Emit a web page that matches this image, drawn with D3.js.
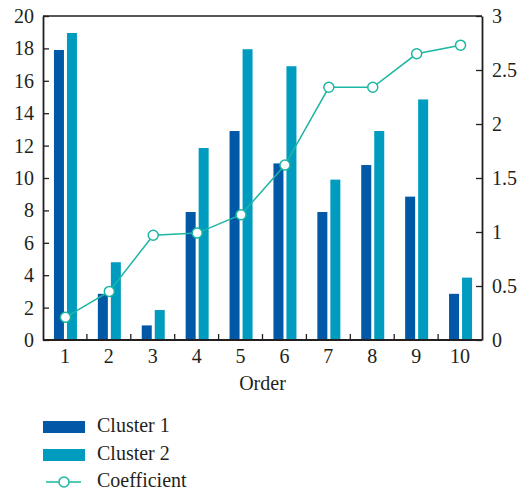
<!DOCTYPE html>
<html>
<head>
<meta charset="utf-8">
<script src="https://cdn.jsdelivr.net/npm/d3@7"></script>
<style>
  html, body { margin: 0; padding: 0; background: #fff; }
  svg text { font-family: "Liberation Serif", "DejaVu Serif", serif; fill: #231f20; }
</style>
</head>
<body>
<svg id="chart" width="519" height="492"></svg>
<script>
// Categories and series
const orders = [1, 2, 3, 4, 5, 6, 7, 8, 9, 10];
const cluster1 = [17.9, 2.85, 0.9, 7.9, 12.9, 10.9, 7.9, 10.8, 8.85, 2.85];
const cluster2 = [18.95, 4.8, 1.85, 11.85, 17.95, 16.9, 9.9, 12.9, 14.85, 3.85];
const coefficient = [0.21, 0.45, 0.97, 0.99, 1.16, 1.62, 2.34, 2.34, 2.65, 2.73];
const leftTicks = [0, 2, 4, 6, 8, 10, 12, 14, 16, 18, 20];
const rightTicks = [0, 0.5, 1, 1.5, 2, 2.5, 3];
const seriesNames = ["Cluster 1", "Cluster 2", "Coefficient"];

const colors = { c1: "#0058a7", c2: "#009cc0", coef: "#1cb6a2", axis: "#231f20" };
const fontSize = "20px";

const svg = d3.select("#chart");
const plot = { left: 43, right: 482, top: 16, bottom: 340 };

const x = d3.scaleBand().domain(orders).range([plot.left, plot.right]);
const y = d3.scaleLinear().domain([0, 20]).range([plot.bottom, plot.top]);
const y2 = d3.scaleLinear().domain([0, 3]).range([plot.bottom, plot.top]);

const barW = 10, barGap = 3;

// Bars
const g = svg.append("g");
g.selectAll("rect.c1").data(orders).join("rect")
  .attr("class", "c1")
  .attr("x", d => x(d) + x.bandwidth() / 2 - barW - barGap / 2 + 0.5)
  .attr("y", (d, i) => y(cluster1[i]))
  .attr("width", barW)
  .attr("height", (d, i) => y(0) - y(cluster1[i]))
  .attr("fill", colors.c1);
g.selectAll("rect.c2").data(orders).join("rect")
  .attr("class", "c2")
  .attr("x", d => x(d) + x.bandwidth() / 2 + barGap / 2 + 0.5)
  .attr("y", (d, i) => y(cluster2[i]))
  .attr("width", barW)
  .attr("height", (d, i) => y(0) - y(cluster2[i]))
  .attr("fill", colors.c2);

// Coefficient line
const cx = d => x(d) + x.bandwidth() / 2 + 0.5;
const line = d3.line().x((d, i) => cx(orders[i])).y(d => y2(d));
g.append("path").datum(coefficient)
  .attr("d", line).attr("fill", "none")
  .attr("stroke", colors.coef).attr("stroke-width", 1.5);
g.selectAll("circle.pt").data(coefficient).join("circle")
  .attr("class", "pt")
  .attr("cx", (d, i) => cx(orders[i]))
  .attr("cy", d => y2(d))
  .attr("r", 5)
  .attr("fill", "#fff")
  .attr("stroke", colors.coef).attr("stroke-width", 1.5);

// Frame: top border line
svg.append("line")
  .attr("x1", plot.left).attr("x2", plot.right)
  .attr("y1", plot.top).attr("y2", plot.top)
  .attr("stroke", colors.axis).attr("stroke-width", 1.5);

function styleAxis(sel) {
  sel.select(".domain").attr("stroke", colors.axis).attr("stroke-width", 1.8);
  sel.selectAll(".tick line").attr("stroke", colors.axis).attr("stroke-width", 1.3);
  sel.selectAll(".tick text").style("font-size", fontSize).attr("fill", colors.axis);
}

// Left axis (ticks point inward)
const leftAxis = svg.append("g").attr("transform", `translate(${plot.left},0)`)
  .call(d3.axisLeft(y).tickValues(leftTicks).tickSize(-6).tickSizeOuter(0));
styleAxis(leftAxis);
leftAxis.selectAll(".tick text").attr("x", -9);

// Right axis
const rightAxis = svg.append("g").attr("transform", `translate(${plot.right},0)`)
  .call(d3.axisRight(y2).tickValues(rightTicks).tickFormat(d3.format("")).tickSize(-6).tickSizeOuter(0));
styleAxis(rightAxis);
rightAxis.selectAll(".tick text").attr("x", 10);

// Bottom axis: labels at band centres, ticks at band boundaries
const bottomAxis = svg.append("g").attr("transform", `translate(0,${plot.bottom})`)
  .call(d3.axisBottom(x).tickSize(0).tickSizeOuter(0));
styleAxis(bottomAxis);
bottomAxis.select(".domain").attr("d", `M${plot.left},0H${plot.right}`);
bottomAxis.selectAll(".tick text").attr("dy", "0.71em").attr("y", 9);
bottomAxis.selectAll("line.sep").data(orders.slice(1)).join("line")
  .attr("class", "sep")
  .attr("x1", d => x(d)).attr("x2", d => x(d))
  .attr("y1", 0).attr("y2", -6)
  .attr("stroke", colors.axis).attr("stroke-width", 1.3);

// Axis title
svg.append("text")
  .attr("x", (plot.left + plot.right) / 2).attr("y", 390)
  .attr("text-anchor", "middle").style("font-size", fontSize)
  .text("Order");

// Legend
const legend = svg.append("g");
const lx = 43, textX = 97;
legend.append("rect").attr("x", lx).attr("y", 421).attr("width", 42).attr("height", 12).attr("fill", colors.c1);
legend.append("text").attr("x", textX).attr("y", 432).style("font-size", fontSize).text(seriesNames[0]);
legend.append("rect").attr("x", lx).attr("y", 449).attr("width", 42).attr("height", 12).attr("fill", colors.c2);
legend.append("text").attr("x", textX).attr("y", 460).style("font-size", fontSize).text(seriesNames[1]);
legend.append("line").attr("x1", 46).attr("x2", 81).attr("y1", 482).attr("y2", 482)
  .attr("stroke", colors.coef).attr("stroke-width", 1.5);
legend.append("circle").attr("cx", 64).attr("cy", 482).attr("r", 5)
  .attr("fill", "#fff").attr("stroke", colors.coef).attr("stroke-width", 1.5);
legend.append("text").attr("x", textX).attr("y", 487).style("font-size", fontSize).text(seriesNames[2]);
</script>
</body>
</html>
